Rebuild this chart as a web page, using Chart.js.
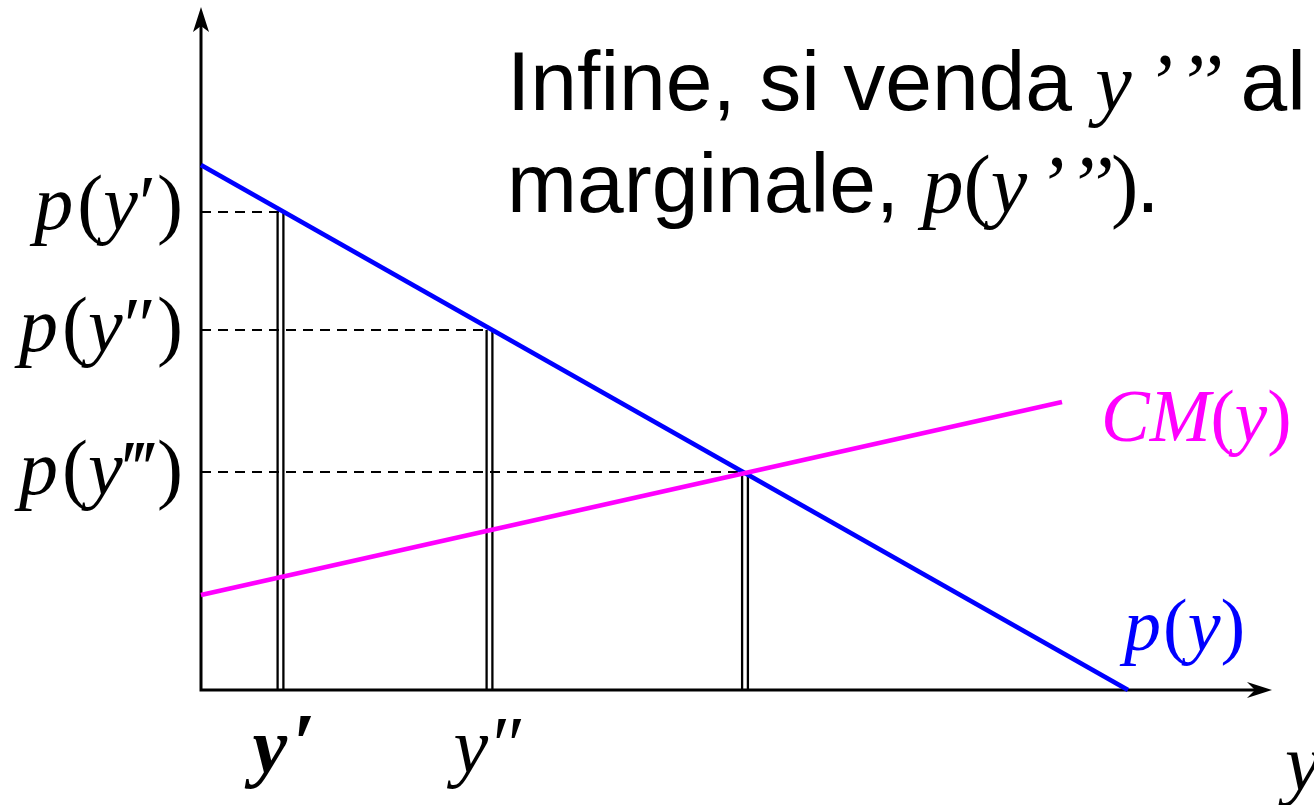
<!DOCTYPE html>
<html><head><meta charset="utf-8">
<script src="https://cdn.jsdelivr.net/npm/chart.js@4/dist/chart.umd.min.js"></script>
<style>html,body{margin:0;padding:0;background:#fff;overflow:hidden}#wrap{width:1314px;height:805px;position:relative}</style>
</head><body><div id="wrap"><canvas id="c" width="1314" height="805"></canvas></div>
<script>
// ---- data ----
const demandX = [0, 9.27];
const demandY = [5.25, 0];
const mcX = [0, 8.61];
const mcY = [0.95, 2.88];
const qty = [0.795, 2.885, 5.44];
const price = [4.78, 3.60, 2.18];
const priceLabels = ['′', '″', '‴'];
const qtyLabels = ['′', '″'];
const xMax = 10.69, yMax = 6.8;

const BLUE = '#0000ff', MAG = '#ff00ff', BLACK = '#000000';
const pts = (xs, ys) => xs.map((x, i) => ({x, y: ys[i]}));

const datasets = [];
datasets.push({data: pts(mcX, mcY), borderColor: MAG, borderWidth: 4.8});
datasets.push({data: pts(demandX, demandY), borderColor: BLUE, borderWidth: 4.8});
qty.forEach((q, i) => {
  datasets.push({data: [{x: 0, y: price[i]}, {x: q, y: price[i]}], borderColor: BLACK, borderWidth: 2.2, borderDash: [10, 7]});
  [-0.029, 0.029].forEach(off => {
    datasets.push({data: [{x: q + off, y: 0}, {x: q + off, y: price[i]}], borderColor: BLACK, borderWidth: 2.3});
  });
});
datasets.forEach(d => { d.showLine = true; d.pointRadius = 0; d.fill = false; d.clip = false; d.tension = 0; });

function runs(ctx, list, x, y, align, color) {
  ctx.fillStyle = color || BLACK;
  ctx.textBaseline = 'alphabetic';
  ctx.textAlign = 'left';
  let w = 0;
  list.forEach(r => { ctx.font = r.f; w += ctx.measureText(r.t).width + (r.dx || 0); });
  let cx = align === 'right' ? x - w : align === 'center' ? x - w / 2 : x;
  list.forEach(r => { ctx.font = r.f; ctx.fillText(r.t, cx, y); cx += ctx.measureText(r.t).width + (r.dx || 0); });
}
const SI = s => `italic ${s}px "Liberation Serif"`;
const SR = s => `${s}px "Liberation Serif"`;
const SB = s => `italic bold ${s}px "Liberation Serif"`;
const SA = s => `${s}px "Liberation Sans"`;

const axesPlugin = {
  id: 'axesPlugin',
  beforeDatasetsDraw(chart) {
    const {ctx, chartArea: a, scales: {x, y}} = chart;
    const x0 = x.getPixelForValue(0), y0 = y.getPixelForValue(0);
    ctx.save();
    ctx.strokeStyle = BLACK; ctx.fillStyle = BLACK; ctx.lineWidth = 3;
    ctx.beginPath();
    ctx.moveTo(x0, y0 + 1.5); ctx.lineTo(x0, a.top + 12);
    ctx.moveTo(x0 - 1.5, y0); ctx.lineTo(a.right - 10, y0);
    ctx.stroke();
    ctx.beginPath();
    ctx.moveTo(x0, a.top - 3); ctx.lineTo(x0 - 8, a.top + 22); ctx.lineTo(x0, a.top + 16); ctx.lineTo(x0 + 8, a.top + 22); ctx.closePath(); ctx.fill();
    ctx.beginPath();
    ctx.moveTo(a.right + 2, y0); ctx.lineTo(a.right - 23, y0 - 8); ctx.lineTo(a.right - 15, y0); ctx.lineTo(a.right - 23, y0 + 8); ctx.closePath(); ctx.fill();
    ctx.restore();
  },
  afterDatasetsDraw(chart) {
    const {ctx, chartArea: a, scales: {x, y}} = chart;
    ctx.save();
    const s = 78;
    const offs = [17, 21, 22];
    priceLabels.forEach((pl, i) => {
      runs(ctx, [
        {t: 'p', f: SI(s), dx: 4}, {t: '(', f: SR(s), dx: 0}, {t: 'y', f: SI(s), dx: 1},
        {t: pl, f: SR(s), dx: 1}, {t: ')', f: SR(s)}
      ], a.left - 18, y.getPixelForValue(price[i]) + offs[i], 'right');
    });
    runs(ctx, [{t: 'y', f: SB(78), dx: 6}, {t: qtyLabels[0], f: 'bold 84px "Liberation Serif"'}], x.getPixelForValue(qty[0]) + 4, 772, 'center');
    runs(ctx, [{t: 'y', f: SI(78), dx: 4}, {t: qtyLabels[1], f: SR(80)}], x.getPixelForValue(qty[1]), 772, 'center');
    runs(ctx, [{t: 'y', f: SI(80)}], a.right + 15, 790, 'left');
    runs(ctx, [{t: 'CM', f: SI(73)}, {t: '(', f: SR(73)}, {t: 'y', f: SI(73)}, {t: ')', f: SR(73)}], 1101, 441, 'left', MAG);
    runs(ctx, [{t: 'p', f: SI(74), dx: 2}, {t: '(', f: SR(74)}, {t: 'y', f: SI(74)}, {t: ')', f: SR(74)}], 1124, 650, 'left', BLUE);
    runs(ctx, [{t: 'Infine, si venda', f: SA(84)}, {t: ' ', f: SA(84)}, {t: 'y', f: SI(82), dx: 14}, {t: '’', f: SI(82), dx: 4}, {t: '’’', f: SI(82), dx: 18}, {t: 'al', f: SA(84)}], 507, 110, 'left');
    runs(ctx, [{t: 'marginale, ', f: SA(84)}, {t: 'p', f: SI(82)}, {t: '(', f: SR(82)}, {t: 'y', f: SI(82), dx: 10}, {t: '’', f: SI(82), dx: 3}, {t: '’’', f: SI(82), dx: -2}, {t: ')', f: SR(82), dx: -2}, {t: '.', f: SA(84)}], 507, 212, 'left');
    ctx.restore();
  }
};

new Chart(document.getElementById('c'), {
  type: 'scatter',
  data: {datasets},
  options: {
    responsive: false, animation: false, devicePixelRatio: 1,
    layout: {padding: {left: 201, right: 44, top: 10, bottom: 115}},
    scales: {
      x: {type: 'linear', min: 0, max: xMax, display: false},
      y: {type: 'linear', min: 0, max: yMax, display: false}
    },
    plugins: {legend: {display: false}, tooltip: {enabled: false}, title: {display: false}},
    elements: {point: {radius: 0}}
  },
  plugins: [axesPlugin]
});
</script></body></html>
